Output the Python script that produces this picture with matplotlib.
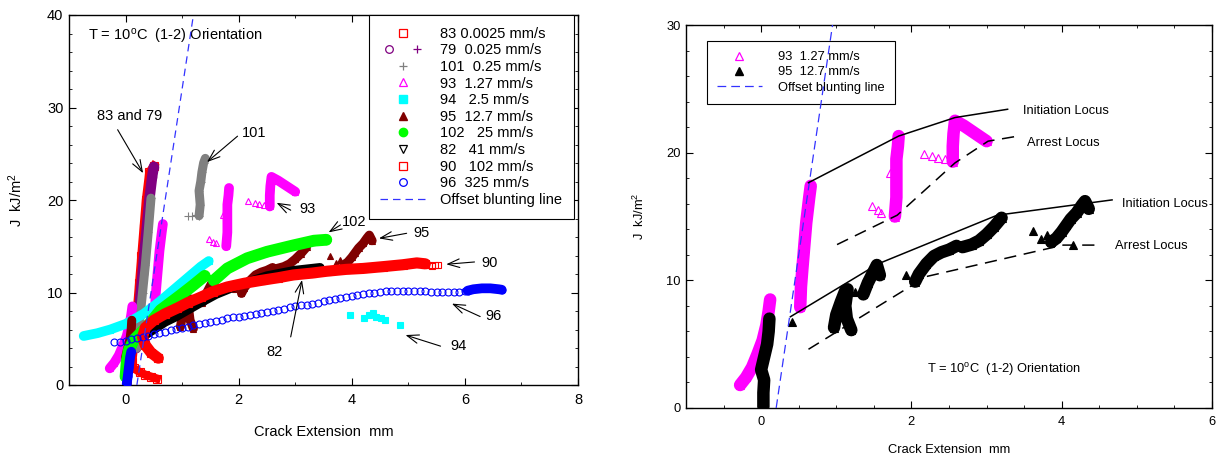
import numpy as np
import matplotlib
matplotlib.use('Agg')
import matplotlib.pyplot as plt
from matplotlib.lines import Line2D
from matplotlib.ticker import MultipleLocator
from matplotlib.legend_handler import HandlerTuple

plt.rcParams['font.family'] = ['Liberation Sans', 'DejaVu Sans']
plt.rcParams['mathtext.fontset'] = 'custom'
plt.rcParams['mathtext.rm'] = 'Liberation Sans'
plt.rcParams['mathtext.it'] = 'Liberation Sans:italic'
plt.rcParams['mathtext.bf'] = 'Liberation Sans:bold'
nan = np.nan

# ---------------- data (crack extension mm, J kJ/m^2) ----------------
# 83  0.0025 mm/s (dense)
x83 = [0.55, 0.45, 0.35, 0.25, 0.15, nan, 0.12, 0.16, 0.2, 0.24, 0.28, 0.32, 0.36, 0.42, 0.5]
y83 = [0.7, 0.9, 1.1, 1.4, 1.8, nan, 2.5, 5, 8, 11, 14, 17, 20, 23, 23.7]
# 79  0.025 mm/s
x79 = [0.18, 0.24, 0.3, 0.36, 0.42, 0.47, 0.5]
y79 = [4.0, 8.0, 12.0, 16.0, 20.0, 22.5, 23.6]
# 101 0.25 mm/s
x101d = [0.2, 0.25, 0.3, 0.35, 0.4, 0.45, nan, 1.3, 1.32, 1.3, 1.33, 1.35, 1.38, 1.41]
y101d = [4.0, 7.0, 10.0, 13.0, 16.5, 20.2, nan, 18.3, 19.5, 21.0, 22.0, 23.0, 24.0, 24.5]
x101p = [1.1, 1.18, 1.25]
y101p = [18.3, 18.3, 18.4]
# 93 1.27 mm/s
x93d = [-0.28, -0.2, -0.12, -0.05, 0.02, 0.07, 0.1, 0.12, nan,
        0.52, 0.53, 0.55, 0.57, 0.6, 0.64, 0.66, nan,
        1.78, 1.8, 1.8, 1.8, 1.82, 1.83, nan,
        2.55, 2.55, 2.56, 2.58, 2.7, 2.8, 2.9, 3.0]
y93d = [1.8, 2.4, 3.2, 4.2, 5.3, 6.5, 7.6, 8.5, nan,
        7.9, 9.5, 11.0, 12.4, 14.5, 16.5, 17.4, nan,
        15.0, 16.5, 18.0, 19.5, 20.5, 21.3, nan,
        19.3, 20.5, 21.5, 22.5, 22.1, 21.7, 21.3, 20.9]
x93p = [1.47, 1.55, 1.6, 1.72, 2.17, 2.28, 2.36, 2.45]
y93p = [15.8, 15.5, 15.3, 18.4, 19.9, 19.7, 19.6, 19.5]
# 94 2.5 mm/s
x94d = [-0.74, -0.5, -0.27, 0.0, 0.32, 0.6, 0.85, 1.1, 1.33, 1.47]
y94d = [5.3, 5.6, 6.0, 6.6, 7.7, 9.0, 10.3, 11.6, 12.8, 13.4]
x94p = [3.96, 4.22, 4.3, 4.38, 4.42, 4.52, 4.58, 4.86]
y94p = [7.55, 7.25, 7.6, 7.8, 7.4, 7.2, 7.0, 6.5]
# 95 12.7 mm/s
x95d = [0.03, 0.03, 0.04, 0.0, 0.04, 0.08, 0.1, 0.11, nan,
        0.97, 1.0, 1.06, 1.12, 1.15, 1.12, 1.14, 1.2, nan,
        1.36, 1.42, 1.48, 1.54, 1.58, nan,
        2.05, 2.1, 2.2, 2.3, 2.4, 2.5, 2.6, nan,
        2.68, 2.8, 2.9, 3.0, 3.1, 3.2, nan,
        3.86, 3.93, 4.0, 4.06, 4.12, 4.2, 4.27, 4.31, 4.36]
y95d = [0.1, 1.2, 2.2, 3.0, 4.0, 5.0, 6.0, 7.0, nan,
        6.3, 7.3, 8.3, 9.2, 9.3, 8.0, 7.0, 6.1, nan,
        8.9, 9.8, 10.5, 11.2, 10.4, nan,
        9.9, 10.5, 11.3, 11.9, 12.2, 12.4, 12.7, nan,
        12.6, 12.8, 13.1, 13.6, 14.2, 14.9, nan,
        13.0, 13.3, 13.8, 14.3, 14.8, 15.3, 15.9, 16.2, 15.6]
x95p = [0.41, 1.25, 1.93, 3.62, 3.8, 3.72, 4.15]
y95p = [6.76, 9.1, 10.4, 13.9, 13.55, 13.2, 12.76]
# 102 25 mm/s
x102 = [0.0, 0.02, 0.06, 0.15, 0.38, 0.62, 0.97, 1.2, 1.4, nan, 1.56, 1.8, 2.15, 2.5, 2.97, 3.33, 3.55]
y102 = [0.9, 2.5, 3.8, 4.9, 6.3, 8.1, 9.7, 10.8, 11.8, nan, 11.3, 12.6, 13.7, 14.4, 15.1, 15.6, 15.7]
# 82 41 mm/s
x82 = [0.3, 0.5, 0.7, 0.9, 1.1, 1.3, 1.6, 2.0, 2.5, 3.0, 3.44]
y82 = [5.2, 6.0, 6.8, 7.4, 8.1, 8.8, 9.8, 10.8, 11.8, 12.4, 12.7]
# 90 102 mm/s
x90d = [0.58, 0.45, 0.35, 0.3, 0.35, 0.5, 0.7, 0.91, 1.1, 1.33, 1.55, 1.8, 2.1, 2.39,
        2.7, 2.97, 3.3, 3.56, 3.9, 4.2, 4.56, 4.9, 5.15, 5.3]
y90d = [2.9, 3.5, 4.3, 5.2, 6.2, 7.0, 7.7, 8.3, 8.9, 9.5, 10.1, 10.6, 11.0, 11.3,
        11.6, 11.9, 12.1, 12.3, 12.5, 12.6, 12.8, 13.0, 13.2, 13.1]
x90p = [5.36, 5.42, 5.48, 5.53]
y90p = [13.0, 12.9, 13.0, 12.95]
# 96 325 mm/s
x96d = [0.02, 0.04, 0.06, 0.08, 0.1, nan, 6.05, 6.15, 6.3, 6.45, 6.6, 6.65]
y96d = [0.1, 1.0, 2.0, 3.0, 3.6, nan, 10.2, 10.35, 10.45, 10.45, 10.35, 10.3]
x96p = [-0.2, -0.1, 0.0, 0.1, 0.2, 0.3, 0.4, 0.5, 0.6, 0.7, 0.8, 0.9, 1.0, 1.1, 1.2,
        1.3, 1.4, 1.5, 1.6, 1.7, 1.8, 1.9, 2.0, 2.1, 2.2, 2.3, 2.4, 2.5, 2.6, 2.7,
        2.8, 2.9, 3.0, 3.1, 3.2, 3.3, 3.4, 3.5, 3.6, 3.7, 3.8, 3.9, 4.0, 4.1, 4.2,
        4.3, 4.4, 4.5, 4.6, 4.7, 4.8, 4.9, 5.0, 5.1, 5.2, 5.3, 5.4, 5.5, 5.6, 5.7,
        5.8, 5.9, 6.0]
y96p = [4.6, 4.7, 4.8, 4.95, 5.05, 5.2, 5.35, 5.5, 5.6, 5.75, 5.9, 6.05, 6.2, 6.3, 6.45,
        6.55, 6.7, 6.8, 6.95, 7.05, 7.2, 7.3, 7.4, 7.5, 7.6, 7.7, 7.8, 7.9, 8.0, 8.15,
        8.25, 8.4, 8.5, 8.6, 8.7, 8.8, 8.9, 9.05, 9.15, 9.3, 9.4, 9.5, 9.6, 9.7, 9.8,
        9.9, 10.0, 10.1, 10.15, 10.2, 10.2, 10.2, 10.2, 10.2, 10.15, 10.15, 10.1, 10.1, 10.1, 10.1,
        10.1, 10.1, 10.15]
# offset blunting line
xblunt = [0.2, 1.2]
yblunt = [0.0, 40.0]
# loci (right panel)
x_init1 = [0.63, 1.83, 2.58, 3.28]
y_init1 = [17.65, 21.3, 22.75, 23.4]
x_arr1 = [1.01, 1.81, 2.58, 3.02, 3.42]
y_arr1 = [12.8, 15.1, 19.2, 20.9, 21.3]
x_init2 = [0.39, 1.56, 3.14, 4.67]
y_init2 = [7.15, 11.3, 15.1, 16.3]
x_arr2 = [0.63, 2.2, 4.02, 4.51]
y_arr2 = [4.6, 10.3, 12.76, 12.76]

labels_left = ['83 0.0025 mm/s', '79  0.025 mm/s', '101  0.25 mm/s', '93  1.27 mm/s',
               '94   2.5 mm/s', '95  12.7 mm/s', '102   25 mm/s', '82   41 mm/s',
               '90   102 mm/s', '96  325 mm/s', 'Offset blunting line']
labels_right = ['93  1.27 mm/s', '95  12.7 mm/s', 'Offset blunting line']

RED = '#ff0000'; PURPLE = '#800080'; GRAY = '#808080'; MAG = '#ff00ff'
CYAN = '#00ffff'; DRED = '#800000'; GREEN = '#00ff00'; BLUE = '#0000ff'
BLUNT = '#3333ff'

fig = plt.figure(figsize=(12.17, 4.55), dpi=100)
ax1 = fig.add_axes([69/1217, 70/455, 509/1217, 370/455])
ax2 = fig.add_axes([686/1217, 47/455, 526/1217, 383/455])


def band(ax, x, y, color, lw, z, marker=None, ms=5, mfc=None, mec=None, cap='round'):
    ax.plot(x, y, color=color, lw=lw, solid_capstyle=cap, solid_joinstyle='round', zorder=z)
    if marker is not None:
        ax.plot(x, y, ls='none', marker=marker, ms=ms,
                mfc=mfc if mfc is not None else color,
                mec=mec if mec is not None else color, mew=0.8, zorder=z)


def pts(ax, x, y, marker, ms, mfc, mec, z):
    ax.plot(x, y, ls='none', marker=marker, ms=ms, mfc=mfc, mec=mec, mew=0.8, zorder=z)


# ---------------- left panel ----------------
band(ax1, x83, y83, RED, 6, 2, 's', 6, 'none', RED, cap='projecting')
band(ax1, x79, y79, PURPLE, 7.5, 2.1, 'o', 6, 'none', PURPLE)
band(ax1, x101d, y101d, GRAY, 6.5, 2.2, '+', 6, GRAY, GRAY)
pts(ax1, x101p, y101p, '+', 6, GRAY, GRAY, 2.2)
band(ax1, x93d, y93d, MAG, 7, 2.3, '^', 5, 'none', MAG)
pts(ax1, x93p, y93p, '^', 5, 'none', MAG, 2.3)
band(ax1, x94d, y94d, CYAN, 7, 2.4, 's', 5, CYAN, CYAN)
pts(ax1, x94p, y94p, 's', 5, CYAN, CYAN, 2.4)
band(ax1, x95d, y95d, DRED, 6.5, 2.5, '^', 5, DRED, DRED)
pts(ax1, x95p, y95p, '^', 5, DRED, DRED, 2.5)
band(ax1, x102, y102, GREEN, 8.5, 2.6, 'o', 6, GREEN, GREEN)
band(ax1, x82, y82, 'k', 6.5, 2.7, 'v', 5, 'none', 'k')
band(ax1, x90d, y90d, RED, 8, 2.8, 's', 6, 'none', RED)
pts(ax1, x90p, y90p, 's', 5, 'none', RED, 2.8)
band(ax1, x96d, y96d, BLUE, 7, 2.9, 'o', 5, BLUE, BLUE)
pts(ax1, x96p, y96p, 'o', 5, 'none', BLUE, 2.9)
ax1.plot(xblunt, yblunt, color=BLUNT, lw=0.9, dashes=(6, 4), zorder=10)

ax1.set_xlim(-1, 8)
ax1.set_ylim(0, 40)
ax1.xaxis.set_major_locator(MultipleLocator(2))
ax1.xaxis.set_minor_locator(MultipleLocator(1))
ax1.yaxis.set_major_locator(MultipleLocator(10))
ax1.yaxis.set_minor_locator(MultipleLocator(2))
ax1.set_xticks([0, 2, 4, 6, 8])

ax1.text(-0.67, 37.7, r'T = 10$^\mathregular{o}$C  (1-2) Orientation', fontsize=10.5,
         ha='left', va='center')

arrow_kw = dict(arrowstyle='->,head_length=0.6,head_width=0.22', lw=0.8, color='k',
                mutation_scale=14, shrinkA=0, shrinkB=0)
ann_left = [
    ('83 and 79', (0.07, 29.1), 'center', (-0.14, 27.6), (0.31, 22.9)),
    ('101', (2.06, 27.2), 'left', (1.98, 26.9), (1.44, 24.1)),
    ('93', (3.08, 19.0), 'left', (2.92, 18.9), (2.67, 19.7)),
    ('102', (3.83, 17.6), 'left', (3.8, 17.3), (3.59, 16.5)),
    ('95', (5.09, 16.4), 'left', (4.97, 16.4), (4.48, 15.85)),
    ('90', (6.29, 13.2), 'left', (6.17, 13.3), (5.67, 13.05)),
    ('96', (6.36, 7.45), 'left', (6.27, 7.4), (5.77, 8.8)),
    ('94', (5.74, 4.2), 'left', (5.57, 4.2), (4.95, 5.4)),
    ('82', (2.64, 3.6), 'center', (2.92, 5.2), (3.12, 11.35)),
]
for txt, pos, ha, tail, head in ann_left:
    ax1.text(pos[0], pos[1], txt, fontsize=10.5, ha=ha, va='center', zorder=12)
    ax1.annotate('', xy=head, xytext=tail, arrowprops=arrow_kw, zorder=12)

MS = 6
h83 = Line2D([], [], ls='none', marker='s', ms=MS, mfc='none', mec=RED, mew=0.9)
h79 = (Line2D([], [], ls='none', marker='o', ms=MS - 0.5, mfc='none', mec=PURPLE, mew=0.9),
       Line2D([], [], ls='none', marker='+', ms=MS - 0.5, color=PURPLE, mew=0.9))
h101 = Line2D([], [], ls='none', marker='+', ms=MS, color=GRAY, mew=0.9)
h93 = Line2D([], [], ls='none', marker='^', ms=MS, mfc='none', mec=MAG, mew=0.9)
h94 = Line2D([], [], ls='none', marker='s', ms=MS, mfc=CYAN, mec=CYAN)
h95 = Line2D([], [], ls='none', marker='^', ms=MS, mfc=DRED, mec=DRED)
h102 = Line2D([], [], ls='none', marker='o', ms=MS, mfc=GREEN, mec=GREEN)
h82 = Line2D([], [], ls='none', marker='v', ms=MS, mfc='none', mec='k', mew=0.9)
h90 = Line2D([], [], ls='none', marker='s', ms=MS, mfc='none', mec=RED, mew=0.9)
h96 = Line2D([], [], ls='none', marker='o', ms=MS - 0.5, mfc='none', mec=BLUE, mew=0.9)
hbl = Line2D([], [], color=BLUNT, lw=0.9, dashes=(6, 4))
leg1 = ax1.legend([h83, h79, h101, h93, h94, h95, h102, h82, h90, h96, hbl], labels_left,
                  handler_map={tuple: HandlerTuple(ndivide=None)},
                  loc='upper right', bbox_to_anchor=(0.992, 1.0), borderaxespad=0,
                  fontsize=10.5, fancybox=False, edgecolor='k', framealpha=1,
                  handlelength=3.1, handletextpad=1.0, borderpad=0.8, labelspacing=0.18)
leg1.get_frame().set_linewidth(0.8)

ax1.set_xlabel('Crack Extension  mm', fontsize=10.5)
ax1.set_ylabel(r'J  kJ/m$^\mathregular{2}$', fontsize=10.5)
ax1.xaxis.set_label_coords(0.5, -0.108)
ax1.yaxis.set_label_coords(-0.0865, 0.5)

# ---------------- right panel ----------------
band(ax2, x93d, y93d, MAG, 9, 2, '^', 6, 'none', MAG)
pts(ax2, x93p, y93p, '^', 6, 'none', MAG, 2)
band(ax2, x95d, y95d, 'k', 9, 3, '^', 6, 'k', 'k')
pts(ax2, x95p, y95p, '^', 6, 'k', 'k', 3)
ax2.plot(xblunt, yblunt, color=BLUNT, lw=0.9, dashes=(7, 4), zorder=10)
ax2.plot(x_init1, y_init1, color='k', lw=1.1, zorder=11)
ax2.plot(x_init2, y_init2, color='k', lw=1.1, zorder=11)
ax2.plot(x_arr1, y_arr1, color='k', lw=1.1, dashes=(8, 5), zorder=11)
ax2.plot(x_arr2, y_arr2, color='k', lw=1.1, dashes=(8, 5), zorder=11)

ax2.text(3.48, 23.26, 'Initiation Locus', fontsize=9.3, ha='left', va='center')
ax2.text(3.54, 20.78, 'Arrest Locus', fontsize=9.3, ha='left', va='center')
ax2.text(4.80, 15.95, 'Initiation Locus', fontsize=9.3, ha='left', va='center')
ax2.text(4.71, 12.71, 'Arrest Locus', fontsize=9.3, ha='left', va='center')
ax2.text(2.21, 2.98, r'T = 10$^\mathregular{o}$C  (1-2) Orientation', fontsize=9.3,
         ha='left', va='center')

ax2.set_xlim(-1, 6)
ax2.set_ylim(0, 30)
ax2.xaxis.set_major_locator(MultipleLocator(2))
ax2.xaxis.set_minor_locator(MultipleLocator(0.5))
ax2.yaxis.set_major_locator(MultipleLocator(10))
ax2.yaxis.set_minor_locator(MultipleLocator(2))
ax2.set_xticks([0, 2, 4, 6])

g93 = Line2D([], [], ls='none', marker='^', ms=MS, mfc='none', mec=MAG, mew=0.9)
g95 = Line2D([], [], ls='none', marker='^', ms=MS, mfc='k', mec='k')
gbl = Line2D([], [], color=BLUNT, lw=0.9, dashes=(7, 4))
leg2 = ax2.legend([g93, g95, gbl], labels_right, loc='upper left',
                  bbox_to_anchor=(0.039, 0.959), borderaxespad=0, fontsize=9.3,
                  fancybox=False, edgecolor='k', framealpha=1, handlelength=3.5,
                  handletextpad=1.2, borderpad=0.8, labelspacing=0.25)
leg2.get_frame().set_linewidth(0.8)

ax2.set_xlabel('Crack Extension  mm', fontsize=9.3)
ax2.set_ylabel(r'J  kJ/m$^\mathregular{2}$', fontsize=9.3)
ax2.xaxis.set_label_coords(0.5, -0.094)
ax2.yaxis.set_label_coords(-0.074, 0.5)

for ax, fs in ((ax1, 10.5), (ax2, 9.3)):
    ax.tick_params(which='both', direction='in', top=True, right=True)
    ax.tick_params(which='major', length=5, width=0.8, labelsize=fs)
    ax.tick_params(which='minor', length=2.5, width=0.6)
    ax.tick_params(axis='x', which='major', pad=5.8)
    ax.tick_params(axis='y', which='major', pad=4)
    for s in ax.spines.values():
        s.set_linewidth(1.0)

fig.savefig('out.png', dpi=100)
